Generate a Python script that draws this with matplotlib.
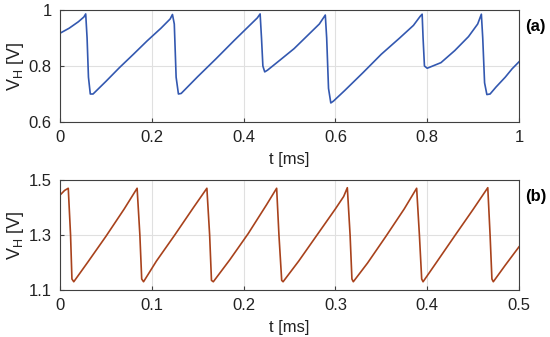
import matplotlib.pyplot as plt

# (a), t in ms, V_H in V
t_a = [0.000, 0.020, 0.040, 0.052, 0.056, 0.059, 0.062, 0.066, 0.072, 0.100, 0.130,
       0.160, 0.190, 0.220, 0.240, 0.245, 0.249, 0.253, 0.258, 0.264, 0.300, 0.340,
       0.380, 0.410, 0.430, 0.436, 0.439, 0.442, 0.446, 0.452, 0.480, 0.510, 0.540,
       0.565, 0.578, 0.581, 0.585, 0.590, 0.596, 0.620, 0.660, 0.700, 0.740, 0.770,
       0.785, 0.789, 0.791, 0.794, 0.800, 0.830, 0.860, 0.890, 0.910, 0.918, 0.921,
       0.925, 0.930, 0.937, 0.950, 0.970, 0.985, 1.000]
v_a = [0.917, 0.935, 0.958, 0.975, 0.986, 0.900, 0.760, 0.700, 0.700, 0.745, 0.795,
       0.842, 0.890, 0.935, 0.968, 0.984, 0.950, 0.760, 0.700, 0.702, 0.762, 0.826,
       0.892, 0.940, 0.972, 0.986, 0.900, 0.800, 0.779, 0.785, 0.822, 0.862, 0.910,
       0.950, 0.982, 0.900, 0.720, 0.668, 0.675, 0.712, 0.776, 0.842, 0.900, 0.945,
       0.978, 0.985, 0.900, 0.800, 0.792, 0.812, 0.855, 0.905, 0.950, 0.985, 0.900,
       0.740, 0.698, 0.700, 0.725, 0.760, 0.790, 0.815]

# (b)
t_b = [0.000, 0.005, 0.009, 0.0115, 0.013, 0.015, 0.030, 0.050, 0.070, 0.084, 0.087,
       0.089, 0.091, 0.105, 0.125, 0.145, 0.160, 0.163, 0.165, 0.167, 0.185, 0.205,
       0.225, 0.236, 0.2385, 0.2415, 0.243, 0.260, 0.280, 0.300, 0.309, 0.313, 0.316,
       0.318, 0.3195, 0.335, 0.355, 0.375, 0.3885, 0.3915, 0.394, 0.3955, 0.410,
       0.430, 0.450, 0.466, 0.4685, 0.4705, 0.472, 0.485, 0.500]
v_b = [1.445, 1.462, 1.470, 1.300, 1.140, 1.130, 1.200, 1.295, 1.395, 1.470, 1.300,
       1.140, 1.130, 1.205, 1.300, 1.398, 1.470, 1.300, 1.135, 1.130, 1.210, 1.305,
       1.410, 1.470, 1.300, 1.135, 1.130, 1.205, 1.300, 1.395, 1.440, 1.472, 1.300,
       1.140, 1.130, 1.198, 1.295, 1.395, 1.470, 1.300, 1.140, 1.130, 1.200, 1.297,
       1.393, 1.472, 1.300, 1.140, 1.130, 1.190, 1.257]

plt.rcParams['font.family'] = ['Liberation Sans', 'DejaVu Sans']
plt.rcParams['mathtext.fontset'] = 'custom'
plt.rcParams['mathtext.rm'] = 'Liberation Sans'
plt.rcParams['mathtext.it'] = 'Liberation Sans'

fig = plt.figure(figsize=(5.5, 3.37), dpi=100)
ax1 = fig.add_axes([60 / 550, 1 - 122 / 337, 459 / 550, 112 / 337])
ax2 = fig.add_axes([60 / 550, 1 - 290 / 337, 459 / 550, 110 / 337])

ax1.plot(t_a, v_a, color='#3358b0', lw=1.2)
ax1.set_xlim(0, 1)
ax1.set_ylim(0.6, 1.0)
ax1.set_xticks([0, 0.2, 0.4, 0.6, 0.8, 1])
ax1.set_xticklabels(['0', '0.2', '0.4', '0.6', '0.8', '1'])
ax1.set_yticks([0.6, 0.8, 1.0])
ax1.set_yticklabels(['0.6', '0.8', '1'])

ax2.plot(t_b, v_b, color='#a8421c', lw=1.2)
ax2.set_xlim(0, 0.5)
ax2.set_ylim(1.1, 1.5)
ax2.set_xticks([0, 0.1, 0.2, 0.3, 0.4, 0.5])
ax2.set_xticklabels(['0', '0.1', '0.2', '0.3', '0.4', '0.5'])
ax2.set_yticks([1.1, 1.3, 1.5])

for ax, tag in [(ax1, '(a)'), (ax2, '(b)')]:
    ax.grid(True, color='#e0e0e0', lw=0.8)
    ax.set_axisbelow(True)
    for s in ax.spines.values():
        s.set_color('#404040')
        s.set_linewidth(0.8)
    ax.tick_params(direction='in', length=3, color='#404040', labelcolor='#222222',
                   labelsize=12, pad=6)
    ax.set_xlabel('t [ms]', fontsize=12, labelpad=5, color='#222222')
    ax.set_ylabel(r'V$_\mathrm{H}$ [V]', fontsize=13, labelpad=2, color='#222222')
    ax.text(1.013, 0.85, tag, transform=ax.transAxes, fontsize=12, fontweight='bold',
            va='center', ha='left')

fig.savefig('out.png', dpi=100)
